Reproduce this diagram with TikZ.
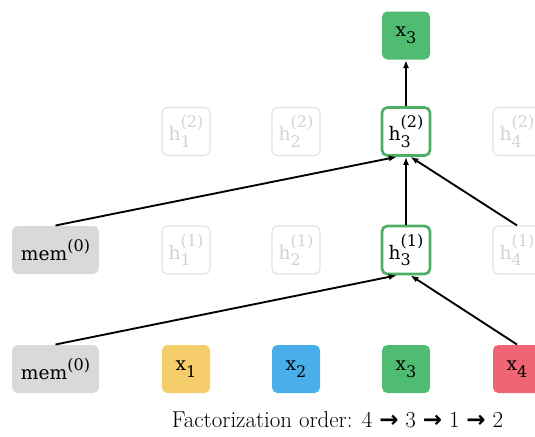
\documentclass[tikz,border=0pt]{standalone}
\usepackage{fontspec}
\newfontfamily\cellfont{DejaVu Serif}
\newfontfamily\arrowfont{DejaVu Sans}
\usetikzlibrary{arrows.meta}

\definecolor{memgray}{HTML}{D9D9D9}
\definecolor{tokyellow}{HTML}{F5CD6B}
\definecolor{tokblue}{HTML}{4AAEEA}
\definecolor{tokgreen}{HTML}{50BC72}
\definecolor{tokred}{HTML}{F06473}
\definecolor{actgreen}{HTML}{4CAF62}
\definecolor{fadeline}{HTML}{E2E2E2}
\definecolor{fadetext}{HTML}{D2D2D2}

\newcommand{\idxfont}{\fontsize{12}{13}\selectfont}
\newcommand{\hstate}[2]{h\raisebox{-5pt}{\idxfont\shortstack[l]{(#2)\\[1pt]#1}}}
\newcommand{\tokname}[1]{x\raisebox{-5pt}{\idxfont #1}}

\tikzset{every picture/.style={line width=0.75pt}}
\tikzset{
  cell/.style={rounded corners=4pt, minimum width=36pt, minimum height=36pt, inner sep=0pt, font=\cellfont\fontsize{14}{16}\selectfont},
  tok/.style={cell, fill=#1},
  memcell/.style={cell, fill=memgray, minimum width=65pt},
  faded/.style={cell, draw=fadeline, line width=0.9pt, text=fadetext},
  active/.style={cell, draw=actgreen, line width=2pt, fill=white},
  flow/.style={-{Latex[length=6pt,width=4.5pt]}, line width=1.4pt},
}

\begin{document}
\begin{tikzpicture}[x=0.75pt,y=0.75pt,yscale=-1,xscale=1]
\useasboundingbox (0,0) rectangle (535,436);

%Input tokens
\node [memcell] (mem0) at (55.5,369) {mem\raisebox{7pt}{\idxfont(0)}};
\node [tok=tokyellow] (x1) at (186,369) {\tokname{1}};
\node [tok=tokblue] (x2) at (296,369) {\tokname{2}};
\node [tok=tokgreen] (x3) at (406,369) {\tokname{3}};
\node [tok=tokred] (x4) at (517,369) {\tokname{4}};

%First layer
\node [memcell] (mem1) at (55.5,250) {mem\raisebox{7pt}{\idxfont(0)}};
\node [faded] (h11) at (186,250) {\hstate{1}{1}};
\node [faded] (h21) at (296,250) {\hstate{2}{1}};
\node [active] (h31) at (406,250) {\hstate{3}{1}};
\node [faded] (h41) at (517,250) {\hstate{4}{1}};

%Second layer
\node [faded] (h12) at (186,131.5) {\hstate{1}{2}};
\node [faded] (h22) at (296,131.5) {\hstate{2}{2}};
\node [active] (h32) at (406,131.5) {\hstate{3}{2}};
\node [faded] (h42) at (517,131.5) {\hstate{4}{2}};

%Prediction
\node [tok=tokgreen] (out3) at (406,35.5) {\tokname{3}};

%Arrows
\draw [flow] (mem0.north) -- (h31.-110);
\draw [flow] (x4.north) -- (h31.-80);
\draw [flow] (mem1.north) -- (h32.-110);
\draw [flow] (h31.north) -- (h32.south);
\draw [flow] (h41.north) -- (h32.-80);
\draw [flow] (h32.north) -- (out3.south);

% Text Node
\node [anchor=base, font=\fontsize{17.2}{19}\selectfont] (order) at (337.5,427) {Factorization order: 4 {\arrowfont\bfseries →} 3 {\arrowfont\bfseries →} 1 {\arrowfont\bfseries →} 2};

\end{tikzpicture}
\end{document}
